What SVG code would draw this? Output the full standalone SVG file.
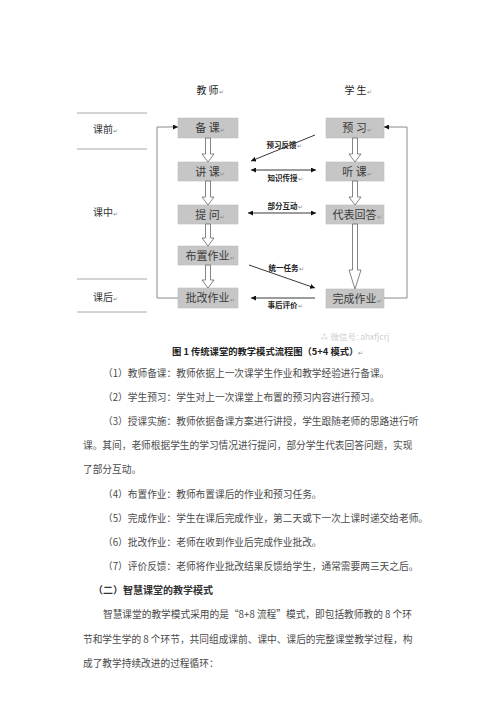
<svg xmlns="http://www.w3.org/2000/svg" width="500" height="708" viewBox="0 0 500 708">
<style>
.box{fill:#c6c6c6;stroke:#bdbdbd;stroke-width:0.6}
.bt{font-family:"Noto Sans CJK SC",sans-serif;font-size:11px;fill:#3a3a3a;text-anchor:middle}
.hd{font-family:"Noto Sans CJK SC",sans-serif;font-size:10px;fill:#222;text-anchor:middle}
.side{font-family:"Noto Sans CJK SC",sans-serif;font-size:10px;fill:#333}
.ml{font-family:"Noto Sans CJK SC",sans-serif;font-size:7.5px;font-weight:bold;fill:#222;text-anchor:middle}
.pm{font-size:6px;fill:#888;font-weight:normal}
.rule{stroke:#a8a8a8;stroke-width:1}
.loop{fill:none;stroke:#8a8a8a;stroke-width:1}
.ln{fill:none;stroke:#222;stroke-width:0.9}
.hol{fill:#fff;stroke:#666;stroke-width:0.8}
.body{font-family:"Noto Sans CJK SC",sans-serif;font-size:9.7px;fill:#4a4a4a}
.cap{font-family:"Noto Sans CJK SC",sans-serif;font-size:9.3px;font-weight:bold;fill:#222}
.h2{font-family:"Noto Sans CJK SC",sans-serif;font-size:10px;font-weight:bold;fill:#333}
.wm{font-family:"Noto Sans CJK SC",sans-serif;font-size:8.5px;fill:#cfcfcf}
</style>
<defs>
<marker id="ah" viewBox="0 0 10 10" refX="10" refY="5" markerWidth="5" markerHeight="5" orient="auto-start-reverse" markerUnits="userSpaceOnUse">
<path d="M0,0 L10,5 L0,10 Z" fill="#111"/>
</marker>
</defs>
<rect width="500" height="708" fill="#fff"/>

<g id="headers">
<text class="hd" x="210" y="94">教 师<tspan class="pm">↵</tspan></text>
<text class="hd" x="358" y="94">学 生<tspan class="pm">↵</tspan></text>
</g>

<g id="phases">
<line class="rule" x1="77" y1="113" x2="147" y2="113"/>
<line class="rule" x1="77" y1="149" x2="147" y2="149"/>
<line class="rule" x1="77" y1="279" x2="147" y2="279"/>
<line class="rule" x1="77" y1="312" x2="147" y2="312"/>
<text class="side" x="93" y="133">课前<tspan class="pm">↵</tspan></text>
<text class="side" x="93" y="216">课中<tspan class="pm">↵</tspan></text>
<text class="side" x="93" y="301">课后<tspan class="pm">↵</tspan></text>
</g>

<g id="n-beike"><rect class="box" x="178" y="118" width="60" height="20"/><text class="bt" x="210" y="132">备 课<tspan class="pm">↵</tspan></text></g>
<g id="n-jiangke"><rect class="box" x="178" y="162" width="60" height="19"/><text class="bt" x="210" y="175.5">讲 课<tspan class="pm">↵</tspan></text></g>
<g id="n-tiwen"><rect class="box" x="178" y="205" width="60" height="19"/><text class="bt" x="210" y="218.5">提 问<tspan class="pm">↵</tspan></text></g>
<g id="n-buzhi"><rect class="box" x="178" y="246" width="60" height="19"/><text class="bt" x="210" y="259.5">布置作业<tspan class="pm">↵</tspan></text></g>
<g id="n-pigai"><rect class="box" x="178" y="288" width="60" height="20"/><text class="bt" x="210" y="302">批改作业<tspan class="pm">↵</tspan></text></g>

<g id="n-yuxi"><rect class="box" x="326" y="118" width="58" height="20"/><text class="bt" x="357" y="132">预 习<tspan class="pm">↵</tspan></text></g>
<g id="n-tingke"><rect class="box" x="326" y="162" width="58" height="19"/><text class="bt" x="357" y="175.5">听 课<tspan class="pm">↵</tspan></text></g>
<g id="n-daibiao"><rect class="box" x="326" y="205" width="58" height="19"/><text class="bt" x="357" y="218.5">代表回答<tspan class="pm">↵</tspan></text></g>
<g id="n-wancheng"><rect class="box" x="326" y="289" width="58" height="19"/><text class="bt" x="357" y="302.5">完成作业<tspan class="pm">↵</tspan></text></g>

<g id="connectors">
<path class="hol" d="M205.5,138 V154 H202 L208,162 L214,154 H210.5 V138 Z"/>
<path class="hol" d="M205.5,181 V197 H202 L208,205 L214,197 H210.5 V181 Z"/>
<path class="hol" d="M205.5,224 V238 H202 L208,246 L214,238 H210.5 V224 Z"/>
<path class="hol" d="M205.5,265 V280 H202 L208,288 L214,280 H210.5 V265 Z"/>
<path class="hol" d="M352.5,138 V154 H349 L355,162 L361,154 H357.5 V138 Z"/>
<path class="hol" d="M352.5,181 V197 H349 L355,205 L361,197 H357.5 V181 Z"/>
<path class="hol" d="M352.5,224 V270 H349 L355,289 L361,270 H357.5 V224 Z"/>

<path class="loop" d="M178,298 H157 V127 H178" marker-end="url(#ah)"/>
<path class="loop" d="M384,298 H407 V127 H384" marker-end="url(#ah)"/>

<line class="ln" x1="315" y1="135" x2="251" y2="161" marker-end="url(#ah)"/>
<line class="ln" x1="251" y1="170" x2="316" y2="170" marker-start="url(#ah)" marker-end="url(#ah)"/>
<line class="ln" x1="248" y1="213" x2="316" y2="213" marker-start="url(#ah)" marker-end="url(#ah)"/>
<line class="ln" x1="249" y1="265" x2="315" y2="288" marker-end="url(#ah)"/>
<line class="ln" x1="315" y1="298" x2="251" y2="298" marker-end="url(#ah)"/>

<text class="ml" x="284" y="148">预习反馈<tspan class="pm">↵</tspan></text>
<text class="ml" x="285" y="181">知识传授<tspan class="pm">↵</tspan></text>
<text class="ml" x="285" y="209">部分互动<tspan class="pm">↵</tspan></text>
<text class="ml" x="286" y="271">统一任务<tspan class="pm">↵</tspan></text>
<text class="ml" x="285" y="308">事后评价<tspan class="pm">↵</tspan></text>
</g>

<text class="wm" x="320" y="340">⁂ 微信号: ahxfjcrj</text>
<text class="cap" x="172" y="355">图 1 传统课堂的教学模式流程图（5+4 模式）<tspan class="pm">↵</tspan></text>

<g id="body">
<text class="body" x="103" y="377">（1）教师备课：教师依据上一次课学生作业和教学经验进行备课。</text>
<text class="body" x="103" y="401">（2）学生预习：学生对上一次课堂上布置的预习内容进行预习。</text>
<text class="body" x="103" y="425">（3）授课实施：教师依据备课方案进行讲授，学生跟随老师的思路进行听</text>
<text class="body" x="83" y="449">课。其间，老师根据学生的学习情况进行提问，部分学生代表回答问题，实现</text>
<text class="body" x="83" y="473">了部分互动。</text>
<text class="body" x="103" y="498">（4）布置作业：教师布置课后的作业和预习任务。</text>
<text class="body" x="103" y="522">（5）完成作业：学生在课后完成作业，第二天或下一次上课时递交给老师。</text>
<text class="body" x="103" y="546">（6）批改作业：老师在收到作业后完成作业批改。</text>
<text class="body" x="103" y="570">（7）评价反馈：老师将作业批改结果反馈给学生，通常需要两三天之后。</text>
<text class="h2" x="93" y="594">（二）智慧课堂的教学模式</text>
<text class="body" x="103" y="618">智慧课堂的教学模式采用的是“8+8 流程”模式，即包括教师教的 8 个环</text>
<text class="body" x="83" y="643">节和学生学的 8 个环节，共同组成课前、课中、课后的完整课堂教学过程，构</text>
<text class="body" x="83" y="667">成了教学持续改进的过程循环：</text>
</g>
</svg>
